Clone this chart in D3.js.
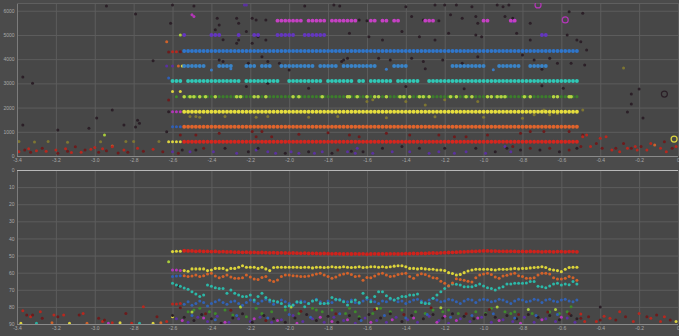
<!DOCTYPE html>
<html><head><meta charset="utf-8">
<script src="https://cdn.jsdelivr.net/npm/d3@7"></script>
<style>html,body{margin:0;padding:0;background:#4b4b4b;overflow:hidden}</style>
</head><body><svg id="c" width="679" height="336"></svg>
<script>
// ---------------- DATA ----------------
const scanTimes = [-2.60,-2.58,-2.56,-2.54,-2.52,-2.50,-2.48,-2.46,-2.44,-2.42,-2.40,-2.38,-2.36,-2.34,-2.32,-2.30,-2.28,-2.26,-2.24,-2.22,-2.20,-2.18,-2.16,-2.14,-2.12,-2.10,-2.08,-2.06,-2.04,-2.02,-2.00,-1.98,-1.96,-1.94,-1.92,-1.90,-1.88,-1.86,-1.84,-1.82,-1.80,-1.78,-1.76,-1.74,-1.72,-1.70,-1.68,-1.66,-1.64,-1.62,-1.60,-1.58,-1.56,-1.54,-1.52,-1.50,-1.48,-1.46,-1.44,-1.42,-1.40,-1.38,-1.36,-1.34,-1.32,-1.30,-1.28,-1.26,-1.24,-1.22,-1.20,-1.18,-1.16,-1.14,-1.12,-1.10,-1.08,-1.06,-1.04,-1.02,-1.00,-0.98,-0.96,-0.94,-0.92,-0.90,-0.88,-0.86,-0.84,-0.82,-0.80,-0.78,-0.76,-0.74,-0.72,-0.70,-0.68,-0.66,-0.64,-0.62,-0.60,-0.58,-0.56,-0.54,-0.52];

const xTicks = [-3.4,-3.2,-3.0,-2.8,-2.6,-2.4,-2.2,-2.0,-1.8,-1.6,-1.4,-1.2,-1.0,-0.8,-0.6,-0.4,-0.2,0];
const topYTicks = [0,1000,2000,3000,4000,5000,6000];
const bottomYTicks = [0,10,20,30,40,50,60,70,80,90];

// top panel: constant-level rows, present during the listed time runs
const topRowNames  = ['magenta','purple','blue','lightblue','teal','green','yellow','orange','red'];
const topRowLevels = [5590,5000,4340,3720,3100,2450,1830,1210,590];
const topRowRuns = [
  [[-2.06,-1.94],[-1.90,-1.82],[-1.78,-1.76],[-1.74,-1.66],[-1.58,-1.56],[-1.52,-1.50],[-1.46,-1.44],[-1.30,-1.26],[-1.00,-0.98],[-0.86,-0.84]],
  [[-2.54,-2.54],[-2.40,-2.36],[-2.26,-2.26],[-2.18,-2.16],[-2.06,-1.98],[-1.92,-1.82],[-0.70,-0.68]],
  [[-2.54,-0.52]],
  [[-2.54,-2.44],[-2.36,-2.30],[-2.22,-2.18],[-2.14,-2.10],[-2.04,-1.88],[-1.84,-1.76],[-1.72,-1.56],[-1.46,-1.40],[-1.16,-1.00],[-0.92,-0.82],[-0.76,-0.68]],
  [[-2.60,-2.56],[-2.52,-2.26],[-2.22,-2.18],[-2.16,-2.06],[-2.00,-1.92],[-1.90,-1.84],[-1.80,-1.68],[-1.64,-1.62],[-1.58,-1.56],[-1.54,-1.48],[-1.44,-1.34],[-1.28,-0.52]],
  [[-2.54,-0.52]],
  [[-2.54,-0.52]],
  [[-2.54,-0.52]],
  [[-2.54,-0.52]]
];
const topGreenBright = [-2.54,-2.51,-2.49,-2.46,-2.43,-2.38,-2.27,-2.25,-2.18,-2.16,-2.12,-1.98,-1.95,-1.83,-1.70,-1.69,-1.65,-1.60,-1.56,-1.54,-1.50,-1.43,-1.41,-1.38,-1.33,-1.31,-1.28,-1.17,-1.14,-1.09,-1.06,-0.98,-0.96,-0.93,-0.91,-0.89,-0.79,-0.76,-0.64,-0.62,-0.56,-0.55];

// top panel scattered readings [time, value, kind]
const topScatter = [
[-3.37,3260,'dk'],[-3.32,3010,'dk'],[-3.37,1280,'dk'],[-3.19,1070,'dk'],[-3.03,1150,'dk'],[-2.99,1570,'dk'],[-2.91,1900,'dk'],[-2.94,6200,'dk'],[-2.79,5870,'dk'],[-2.70,3930,'dk'],[-2.79,1200,'dk'],[-2.78,1480,'dk'],[-2.77,1350,'dk'],[-2.85,1280,'dk'],[-2.95,870,'lg'],[-2.91,410,'or'],
[-3.39,180,'rd'],[-3.36,250,'dr'],[-3.34,300,'rd'],[-3.33,150,'dr'],[-3.30,220,'rd'],[-3.27,320,'dr'],[-3.25,200,'rd'],[-3.20,250,'rd'],[-3.19,110,'dr'],[-3.15,300,'rd'],[-3.14,200,'dr'],[-3.12,140,'rd'],[-3.10,380,'dr'],[-3.07,150,'rd'],[-3.05,250,'dr'],[-3.02,280,'rd'],[-3.00,350,'rd'],[-2.98,160,'dr'],[-2.96,300,'rd'],[-2.94,220,'dr'],[-2.91,380,'rd'],[-2.88,120,'dr'],[-2.85,250,'rd'],[-2.83,150,'dr'],[-2.78,320,'rd'],[-2.75,200,'dr'],[-2.70,280,'rd'],[-2.65,180,'dr'],
[-3.39,600,'oy'],[-3.31,580,'oy'],[-3.24,600,'oy'],[-3.14,570,'oy'],[-2.97,590,'oy'],[-2.84,600,'oy'],[-2.80,600,'oy'],[-2.67,600,'oy'],
[-2.63,4720,'or'],[-2.62,4300,'dr'],[-2.62,3220,'bl'],[-2.62,2310,'dr'],[-2.62,590,'ye'],[-2.63,3720,'pu'],[-2.62,1830,'dk'],[-2.63,1000,'dk'],
[-2.60,4310,'rd'],[-2.58,4310,'rd'],[-2.56,4310,'dr'],[-2.60,3720,'pu'],[-2.57,3720,'or'],[-2.55,3720,'ye'],[-2.60,2660,'ye'],[-2.56,2660,'ye'],[-2.58,2450,'gr'],[-2.60,1830,'mg'],[-2.58,1830,'mg'],[-2.56,1830,'mg'],[-2.60,1210,'bl'],[-2.58,1210,'bl'],[-2.56,1210,'bl'],[-2.60,590,'ye'],[-2.58,590,'ye'],[-2.56,590,'ye'],[-2.56,5000,'lg'],
[-2.60,6240,'dk'],[-2.49,6200,'dk'],[-2.23,6240,'pu'],[-2.22,6240,'pu'],[-1.92,6200,'dk'],[-1.77,6240,'dk'],[-1.74,6200,'dk'],[-1.40,6170,'dk'],[-1.25,6240,'dk'],[-1.20,6240,'dk'],[-1.14,6240,'dk'],[-1.06,6170,'dk'],[-0.93,6240,'dk'],[-0.90,6170,'dk'],[-0.87,6240,'dk'],
[-2.50,5830,'mg'],[-2.49,5760,'mg'],[-2.37,5690,'dk'],[-2.36,5410,'dk'],[-2.27,5690,'dk'],[-2.19,5690,'dk'],[-2.17,5620,'dk'],[-2.12,5620,'dk'],[-2.26,5480,'dk'],[-1.64,5620,'dk'],[-1.60,5590,'dk'],[-1.37,5760,'dk'],[-1.31,5620,'dk'],[-1.23,5590,'dk'],[-1.17,5830,'dk'],[-1.11,5690,'dk'],[-1.04,5760,'dk'],[-1.03,5480,'dk'],[-0.89,5760,'dk'],[-0.85,5690,'dk'],[-0.85,5550,'pu'],[-0.84,5620,'pu'],[-0.76,5480,'dk'],[-0.56,5960,'dk'],[-0.49,5900,'dk'],
[-2.61,5480,'dk'],[-2.38,5210,'dk'],[-2.34,4800,'dk'],[-2.27,4660,'dk'],[-2.26,4790,'dk'],[-2.22,5140,'dk'],[-2.19,4660,'dk'],[-2.16,4930,'dk'],[-2.12,4790,'dk'],[-1.69,5070,'dk'],[-1.59,4930,'dk'],[-1.52,4790,'dk'],[-1.42,5140,'dk'],[-1.33,4930,'dk'],[-1.25,4790,'dk'],[-1.18,5070,'dk'],[-1.04,5000,'dk'],[-1.01,4930,'dk'],[-0.83,5070,'dk'],[-0.76,4790,'dk'],[-0.57,5000,'dk'],[-0.52,4790,'dk'],[-0.50,4720,'dk'],[-0.47,4380,'dk'],
[-2.36,3970,'dk'],[-2.34,3900,'dk'],[-2.21,3830,'dk'],[-2.14,4100,'dk'],[-2.11,3900,'dk'],[-2.05,3830,'dk'],[-1.73,3900,'dk'],[-1.70,4040,'dk'],[-1.72,3970,'dk'],[-1.54,4040,'dk'],[-1.48,3970,'dk'],[-1.37,4040,'dk'],[-1.31,3900,'dk'],[-1.21,3970,'dk'],[-1.11,3830,'dk'],[-1.03,4100,'dk'],[-0.80,4170,'dk'],[-0.74,3970,'dk'],[-0.66,4040,'dk'],[-0.62,3830,'dk'],[-0.55,3830,'dk'],[-0.48,3760,'dk'],
[-2.40,3550,'b2'],[-2.30,3600,'b2'],[-2.00,3550,'dk'],[-1.50,3580,'b2'],[-1.30,3600,'dk'],[-0.95,3560,'b2'],[-0.70,3580,'dk'],
[-2.22,2870,'dk'],[-2.11,3000,'dk'],[-1.90,2800,'dk'],[-1.40,2870,'dk'],[-1.10,2780,'dk'],[-0.70,2900,'dk'],[-0.59,2800,'dk'],
[-2.51,1630,'oy'],[-2.48,1630,'oy'],[-2.46,1600,'oy'],[-2.33,1630,'oy'],[-2.17,1600,'oy'],[-2.11,1630,'oy'],[-1.60,2250,'oy'],[-1.57,2320,'oy'],[-1.40,2250,'oy'],[-1.30,2110,'oy'],[-1.20,2320,'oy'],[-1.03,2250,'oy'],[-0.80,1560,'oy'],[-0.74,1700,'oy'],[-0.69,1900,'oy'],[-0.66,1700,'oy'],[-0.62,1760,'oy'],[-0.49,1900,'oy'],[-1.90,1600,'oy'],[-1.75,1630,'oy'],[-1.50,1580,'oy'],[-1.25,1620,'oy'],[-1.00,1600,'oy'],
[-2.56,870,'dr'],[-2.48,870,'dr'],[-2.36,940,'dr'],[-2.19,1010,'dr'],[-2.17,800,'dr'],[-2.14,1010,'dr'],[-2.09,800,'dr'],[-1.69,870,'dr'],[-1.64,800,'dr'],[-1.50,940,'dr'],[-1.38,870,'dr'],[-1.23,870,'dr'],[-1.15,800,'dr'],[-1.09,800,'dr'],[-0.98,870,'dr'],[-0.81,940,'dr'],[-0.76,1010,'dr'],[-0.69,1010,'dr'],[-0.56,1010,'dr'],[-0.49,870,'dr'],[-1.95,900,'dr'],[-1.80,960,'dr'],
[-2.60,180,'pu'],[-2.57,110,'dr'],[-2.55,250,'dk'],[-2.51,180,'pu'],[-2.48,250,'dk'],[-2.44,320,'dr'],[-2.39,180,'pu'],[-2.33,320,'dk'],[-2.27,110,'pu'],[-2.21,180,'dk'],[-2.17,250,'pu'],[-2.16,320,'dk'],[-2.11,180,'pu'],[-2.07,110,'pu'],[-2.02,110,'dk'],[-1.99,180,'pu'],[-1.95,110,'pu'],[-1.90,180,'dk'],[-1.87,110,'pu'],[-1.83,180,'pu'],[-1.78,110,'dk'],[-1.75,250,'dr'],[-1.70,180,'pu'],[-1.66,110,'pu'],
[-1.68,200,'dk'],[-1.65,320,'pu'],[-1.62,180,'dk'],[-1.57,110,'pu'],[-1.52,320,'dk'],[-1.47,180,'pu'],[-1.42,390,'dk'],[-1.38,180,'pu'],[-1.33,320,'dk'],[-1.28,110,'pu'],[-1.23,180,'pu'],[-1.20,320,'dk'],[-1.15,110,'pu'],[-1.09,180,'pu'],[-1.04,320,'dk'],[-0.99,110,'pu'],[-0.94,180,'dk'],[-0.89,390,'pu'],[-0.86,180,'pu'],
[-0.88,320,'dk'],[-0.85,390,'dr'],[-0.81,250,'dk'],[-0.76,320,'dr'],[-0.71,250,'dk'],[-0.66,320,'dr'],[-0.61,180,'dk'],[-0.56,250,'dr'],[-0.52,320,'dk'],
[-0.49,800,'rd'],[-0.50,390,'dr'],[-0.47,870,'rd'],[-0.45,390,'rd'],[-0.42,520,'dr'],[-0.40,730,'rd'],[-0.39,320,'dr'],[-0.37,800,'rd'],[-0.34,250,'rd'],[-0.32,320,'dr'],[-0.30,180,'rd'],[-0.28,520,'dr'],[-0.26,320,'rd'],[-0.24,320,'dr'],[-0.22,390,'rd'],[-0.21,250,'rd'],[-0.19,390,'dr'],[-0.16,250,'rd'],[-0.14,520,'rd'],[-0.12,450,'or'],[-0.09,320,'rd'],[-0.07,590,'dr'],[-0.06,180,'rd'],[-0.03,320,'dr'],[-0.01,390,'rd'],
[-0.20,2770,'dk'],[-0.24,2560,'dk'],[-0.24,2150,'dk'],[-0.26,1820,'dk'],[-0.28,3640,'oy'],[-0.18,1570,'dk']
];
const topRings = [[-0.07,2560,'dk'],[-0.02,700,'ye'],[-0.72,6240,'mg'],[-0.58,5620,'mg']];

// bottom panel series, one value per scan time (null = no reading)
const bottomRed = [null,null,null,
47.2,47.3,47.3,47.5,47.4,47.6,47.5,47.7,47.6,47.8,47.7,47.9,47.8,48.0,48.0,48.1,48.0,48.2,
48.1,48.3,48.2,48.3,48.4,48.3,48.5,48.4,48.5,48.6,48.5,48.6,48.7,48.6,48.8,48.7,48.8,48.9,48.8,48.9,
49.0,48.9,49.0,49.1,49.0,49.1,49.0,49.1,49.0,49.2,49.1,49.0,49.1,49.0,49.1,49.0,49.0,49.1,49.0,48.9,
48.9,48.8,48.9,48.7,48.8,48.6,48.5,48.6,48.4,48.3,48.2,48.1,48.0,47.9,47.8,47.7,47.6,47.5,47.4,47.3,
47.3,47.4,47.4,47.5,47.5,47.6,47.5,47.6,47.7,47.6,47.7,47.6,47.7,47.7,47.8,47.7,47.7,47.8,47.7,47.7,47.8,47.7,47.7,47.8];
const bottomYellow = [47.7,47.5,47.5,58.8,59.2,57.8,57.8,57.8,57.8,58.8,58.4,
57.5,57.5,57.5,58.4,57.5,57.5,56.8,56.0,56.8,56.8,
56.8,57.5,56.8,57.8,58.8,57.0,56.8,56.8,56.8,56.8,
56.8,56.8,57.0,56.8,56.8,57.2,56.8,56.8,57.0,56.8,
56.5,56.8,56.8,56.5,56.8,57.0,56.8,56.5,
57.0,56.8,56.5,56.5,56.8,56.5,56.8,56.5,56.2,56.0,56.0,56.5,
57.5,57.5,57.8,57.5,57.8,58.0,58.0,58.4,58.4,58.8,
60.0,60.5,61.4,61.0,60.0,59.0,58.4,58.0,58.0,58.0,
58.0,58.2,58.4,58.0,58.0,58.0,57.8,57.5,
57.8,57.5,57.5,57.2,57.0,56.8,56.5,57.0,58.0,58.4,58.8,59.4,58.0,57.0,56.8,56.8];
const bottomOrange = [null,null,null,
61.8,62.3,62.0,61.4,62.3,61.8,60.8,60.4,
62.0,63.0,62.3,61.4,62.5,63.3,63.3,63.0,61.4,62.5,
63.7,64.0,62.8,62.3,64.5,65.2,64.3,62.3,61.4,61.4,
61.8,62.0,62.3,62.3,62.0,61.4,60.8,60.4,61.4,62.3,
63.3,62.5,61.4,60.8,60.4,61.0,62.3,62.0,
64.5,62.8,63.0,62.0,60.8,60.4,61.4,62.3,62.0,61.0,60.6,60.4,
62.3,63.3,61.4,60.6,61.0,62.0,63.0,63.3,65.0,66.2,
67.6,66.0,63.5,64.0,64.5,65.0,65.5,63.0,61.4,60.8,
60.4,61.0,62.5,63.3,62.0,61.5,60.8,60.4,
61.8,62.3,63.3,63.3,63.0,61.4,60.4,60.4,60.8,63.0,63.7,63.7,63.3,62.3,63.0,64.5];
const bottomTeal = [66.2,67.2,68.0,69.0,69.7,71.1,72.5,74.0,73.0,67.2,68.0,
68.8,69.2,69.2,72.1,70.1,72.0,73.0,74.0,74.0,73.0,
76.0,74.0,72.1,74.5,76.0,76.5,77.0,78.0,79.9,79.4,
78.9,77.0,77.5,79.9,78.0,76.5,76.0,78.0,78.0,77.9,
74.5,75.5,76.0,77.0,78.9,77.0,76.0,77.5,
72.1,74.5,77.0,74.0,71.1,71.1,73.5,75.0,76.0,75.0,74.0,74.0,
73.0,73.0,72.5,77.5,78.0,78.0,75.0,73.0,71.1,69.2,
67.8,66.6,66.8,67.2,68.2,68.2,68.2,67.5,66.6,67.8,
68.8,69.2,70.1,69.0,68.2,66.6,66.6,66.2,
66.2,66.2,66.0,65.2,65.2,68.0,68.2,68.8,67.8,66.6,66.2,67.2,66.6,67.0,65.2,66.6];
const bottomBlue = [null,null,null,
78.5,77.0,79.0,78.0,76.5,77.5,79.5,78.0,77.0,76.0,77.5,78.5,77.0,76.5,78.0,79.0,77.5,76.0,
77.0,78.0,76.5,75.5,77.0,78.5,77.5,76.0,77.0,78.0,79.0,77.5,76.5,77.0,78.0,76.5,75.5,77.0,78.0,76.5,
77.5,76.0,75.5,76.5,77.0,76.0,77.5,78.0,76.5,75.5,76.0,77.0,78.0,76.5,77.0,75.5,76.0,77.0,76.5,78.0,
77.0,76.0,75.5,76.5,77.5,76.0,75.0,76.0,77.0,76.5,75.5,76.0,77.0,78.0,76.5,75.5,76.0,77.5,76.0,75.5,
76.0,77.0,76.5,75.5,76.0,77.0,78.0,76.5,75.5,76.0,77.0,76.5,75.5,76.0,77.5,76.0,75.5,76.5,77.0,76.0,75.5,76.5,77.0,76.0];

// bottom panel scattered readings [time, value, kind]
const bottomScatter = [
[-2.60,58.4,'mg'],[-2.58,58.4,'mg'],[-2.56,58.8,'mg'],[-2.60,62.3,'bl'],[-2.58,62.0,'bl'],[-2.56,61.8,'bl'],[-2.62,53.6,'lg'],[-2.60,78.3,'rd'],[-2.58,78.3,'rd'],[-2.56,78.0,'rd'],[-2.57,68.0,'dk'],[-2.60,85.7,'ye'],
[-2.52,82.8,'gr'],[-2.49,81.8,'gr'],[-2.46,80.8,'gr'],[-2.41,82.8,'gr'],[-2.38,83.8,'gr'],[-2.33,81.8,'gr'],[-2.29,84.7,'gr'],[-2.25,79.9,'gr'],[-2.22,85.7,'gr'],[-2.17,80.8,'gr'],[-2.14,83.8,'gr'],[-2.09,82.8,'gr'],[-2.02,81.8,'gr'],[-1.99,79.9,'gr'],[-1.95,83.8,'gr'],[-1.88,80.8,'gr'],[-1.86,81.8,'gr'],[-1.83,82.8,'gr'],[-1.78,81.8,'gr'],[-1.71,83.8,'gr'],[-1.69,80.8,'gr'],[-1.66,82.8,'gr'],
[-1.64,85.7,'gr'],[-1.57,83.8,'gr'],[-1.53,80.8,'gr'],[-1.48,82.8,'gr'],[-1.42,81.8,'gr'],[-1.35,82.8,'gr'],[-1.30,83.8,'gr'],[-1.26,81.8,'gr'],[-1.21,82.8,'gr'],[-1.18,81.8,'gr'],[-1.13,83.8,'gr'],[-1.04,82.8,'gr'],[-0.99,83.8,'gr'],[-0.96,80.8,'gr'],[-0.89,82.8,'gr'],[-0.86,83.8,'gr'],
[-0.84,82.8,'gr'],[-0.75,83.8,'gr'],[-0.66,82.8,'gr'],[-0.61,83.8,'gr'],[-0.57,82.8,'gr'],[-0.55,79.9,'gr'],
[-2.50,83.0,'lg'],[-2.25,80.0,'lg'],[-1.99,80.0,'lg'],[-0.93,80.0,'lg'],[-0.77,81.5,'lg'],[-0.63,81.5,'lg'],[-1.55,81.0,'lg'],[-1.22,80.5,'lg'],
[-2.58,87.0,'pu'],[-2.52,89.0,'pu'],[-2.47,86.0,'pu'],[-2.42,88.5,'pu'],[-2.37,85.5,'pu'],[-2.31,89.0,'pu'],[-2.26,87.0,'pu'],[-2.20,88.5,'pu'],[-2.15,86.0,'pu'],[-2.09,89.0,'pu'],[-2.04,87.5,'pu'],[-1.98,85.0,'pu'],[-1.93,88.5,'pu'],[-1.88,87.0,'pu'],[-1.82,89.0,'pu'],[-1.77,86.0,'pu'],[-1.72,88.0,'pu'],[-1.66,89.5,'pu'],[-1.61,86.5,'pu'],[-1.55,88.0,'pu'],[-1.50,89.0,'pu'],[-1.45,86.0,'pu'],[-1.39,87.5,'pu'],[-1.34,89.0,'pu'],[-1.28,85.5,'pu'],[-1.23,88.0,'pu'],[-1.18,89.5,'pu'],[-1.12,87.0,'pu'],[-1.07,88.5,'pu'],[-1.01,86.0,'pu'],[-0.96,89.0,'pu'],[-0.90,87.5,'pu'],[-0.85,88.5,'pu'],[-0.79,86.0,'pu'],[-0.74,89.0,'pu'],[-0.68,87.0,'pu'],[-0.63,88.5,'pu'],[-0.57,86.5,'pu'],[-0.53,89.0,'pu'],
[-2.55,88.0,'mg'],[-2.44,86.5,'mg'],[-2.33,89.0,'mg'],[-2.18,87.0,'mg'],[-2.06,88.0,'mg'],[-1.96,89.5,'mg'],[-1.84,86.0,'mg'],[-1.70,87.5,'mg'],[-1.58,89.0,'mg'],[-1.47,87.5,'mg'],[-1.36,86.5,'mg'],[-1.24,89.0,'mg'],[-1.14,88.0,'mg'],[-1.03,86.5,'mg'],[-0.92,88.0,'mg'],[-0.81,89.5,'mg'],[-0.70,87.5,'mg'],[-0.60,86.0,'mg'],[-1.78,88.5,'mg'],[-1.20,85.5,'mg'],
[-2.60,85.0,'dk'],[-2.54,86.0,'dk'],[-2.49,88.0,'dk'],[-2.45,84.5,'dk'],[-2.40,87.0,'dk'],[-2.35,89.5,'dk'],[-2.29,86.5,'dk'],[-2.24,84.0,'dk'],[-2.19,89.0,'dk'],[-2.13,85.0,'dk'],[-2.08,87.0,'dk'],[-2.02,89.0,'dk'],[-1.97,86.5,'dk'],[-1.91,84.5,'dk'],[-1.86,88.0,'dk'],[-1.80,85.5,'dk'],[-1.75,89.0,'dk'],[-1.69,85.0,'dk'],[-1.64,87.0,'dk'],[-1.59,84.5,'dk'],[-1.53,86.5,'dk'],[-1.48,84.0,'dk'],[-1.42,88.5,'dk'],[-1.37,85.0,'dk'],[-1.31,87.0,'dk'],[-1.26,84.5,'dk'],[-1.21,86.5,'dk'],[-1.16,84.0,'dk'],[-1.10,85.5,'dk'],[-1.05,87.0,'dk'],[-0.99,84.5,'dk'],[-0.94,86.0,'dk'],[-0.88,85.0,'dk'],[-0.83,87.0,'dk'],[-0.77,84.5,'dk'],[-0.72,86.0,'dk'],[-0.66,85.0,'dk'],[-0.61,87.5,'dk'],[-0.55,85.0,'dk'],[-0.52,87.0,'dk'],
[-2.50,85.0,'bl'],[-2.38,87.5,'bl'],[-2.27,85.0,'bl'],[-2.11,86.5,'bl'],[-2.00,84.5,'bl'],[-1.89,86.0,'bl'],[-1.74,84.0,'bl'],[-1.63,88.0,'bl'],[-1.51,85.0,'bl'],[-1.40,86.5,'bl'],[-1.29,84.5,'bl'],[-1.17,86.0,'bl'],[-1.06,85.0,'bl'],[-0.95,84.0,'bl'],[-0.84,86.5,'bl'],[-0.73,85.0,'bl'],[-0.62,84.5,'bl'],
[-2.56,80.5,'dr'],[-2.43,84.0,'dr'],[-2.30,82.0,'dr'],[-2.12,88.0,'dr'],[-1.94,82.5,'dr'],[-1.76,84.0,'dr'],[-1.56,81.5,'dr'],[-1.41,84.5,'dr'],[-1.27,80.5,'dr'],[-1.09,84.0,'dr'],[-0.97,81.5,'dr'],[-0.82,84.5,'dr'],[-0.67,83.0,'dr'],[-0.56,84.0,'dr'],
[-3.37,82.2,'rd'],[-3.35,84.7,'dr'],[-3.33,85.7,'rd'],[-3.32,84.7,'dr'],[-3.28,82.8,'rd'],[-3.27,86.7,'dr'],[-3.21,84.7,'rd'],[-3.19,85.7,'dr'],[-3.16,84.7,'rd'],[-3.08,84.7,'dr'],[-3.06,83.8,'rd'],[-2.98,86.7,'dr'],[-2.96,88.6,'rd'],[-2.95,87.7,'dr'],[-2.91,89.2,'rd'],[-2.84,83.8,'dr'],[-2.81,89.6,'rd'],[-2.75,79.9,'rd'],[-2.68,85.7,'dr'],[-2.63,88.6,'rd'],
[-3.38,89.5,'ye'],[-3.30,89.5,'tl'],[-3.22,89.2,'or'],[-3.13,89.5,'ye'],[-3.04,89.5,'or'],[-2.93,89.5,'mg'],[-2.87,89.3,'ye'],[-2.77,89.5,'tl'],[-2.70,89.5,'ye'],[-2.66,89.3,'or'],
[-0.50,84.2,'rd'],[-0.50,86.7,'dr'],[-0.48,88.6,'rd'],[-0.46,85.7,'dr'],[-0.42,88.6,'rd'],[-0.40,87.7,'dr'],[-0.38,85.4,'rd'],[-0.35,86.7,'rd'],[-0.32,87.7,'dr'],[-0.30,82.8,'rd'],[-0.27,85.7,'dr'],[-0.23,88.6,'rd'],[-0.20,83.8,'rd'],[-0.16,85.7,'dr'],[-0.14,86.7,'rd'],[-0.11,84.7,'dr'],[-0.09,88.6,'rd'],[-0.07,85.7,'rd'],[-0.04,87.7,'dr'],[-0.01,88.6,'ye'],[-0.40,80.0,'dk']
];

// ---------------- STYLE ----------------
const kindColor = {rd:'#b8281f', dr:'#6c1b1c', dk:'#2b1f27', pu:'#5a31a0', mg:'#b436b8', gr:'#3f8a2c', lg:'#a8cc3c',
  bl:'#2f5fb6', b2:'#3a7cc4', or:'#d0622a', ye:'#dcd440', oy:'#7e7632', tl:'#2ab0a0'};
const topRowColor = {magenta:'#c640c4', purple:'#6436c0', blue:'#2f76cc', lightblue:'#3a84c8', teal:'#30c8b6',
  green:'#3c7e2c', yellow:'#e6de3e', orange:'#e0642c', red:'#d6261e'};

// ---------------- CHART ----------------
const W = 679, H = 336;
const svg = d3.select('#c');
svg.append('rect').attr('width', W).attr('height', H).attr('fill', '#4b4b4b');

const x = d3.scaleLinear().domain([-3.4, 0]).range([17, 678]);
const yTop = d3.scaleLinear().domain([0, 6320]).range([156, 3]);
const yBot = d3.scaleLinear().domain([0, 90]).range([170, 324]);

function panel(y, yTicks, id) {
  const [r0, r1] = y.range();
  const top = Math.min(r0, r1), bottom = Math.max(r0, r1);
  const left = x.range()[0], right = x.range()[1];
  const g = svg.append('g');
  g.append('rect').attr('x', left).attr('y', top).attr('width', right - left).attr('height', bottom - top).attr('fill', '#474747');
  const ax = g.append('g').attr('transform', `translate(0,${bottom})`)
    .call(d3.axisBottom(x).tickValues(xTicks).tickSize(-(bottom - top)).tickPadding(2.5)
      .tickFormat(d => d === 0 ? '0' : d.toFixed(1)));
  const ay = g.append('g').attr('transform', `translate(${left},0)`)
    .call(d3.axisLeft(y).tickValues(yTicks).tickSize(-(right - left)).tickPadding(2.5)
      .tickFormat(d => String(d)));
  [ax, ay].forEach(a => {
    a.select('.domain').remove();
    a.selectAll('line').attr('stroke', '#5d5d5d').attr('stroke-width', 1);
    a.selectAll('text').attr('fill', '#a9a9a9').attr('font-size', '5px')
      .attr('font-family', '"Liberation Sans", Arial, sans-serif');
  });
  g.append('line').attr('x1', left + 0.5).attr('x2', left + 0.5).attr('y1', top).attr('y2', bottom).attr('stroke', '#7c7c7c');
  g.append('line').attr('x1', left).attr('x2', right).attr('y1', bottom + 0.5).attr('y2', bottom + 0.5).attr('stroke', '#8a8a8a');
  svg.append('clipPath').attr('id', 'clip' + id).append('rect')
    .attr('x', left + 1).attr('y', top).attr('width', right - left).attr('height', bottom - top);
  const plot = svg.append('g').attr('clip-path', `url(#clip${id})`);
  return {g, plot, top, bottom, left, right};
}

function dots(layer, data, y, r, colorFn, opacity) {
  layer.append('g').selectAll('circle').data(data).join('circle')
    .attr('cx', d => x(d[0])).attr('cy', d => y(d[1])).attr('r', r)
    .attr('fill', colorFn).attr('fill-opacity', opacity == null ? 1 : opacity);
}
const inRuns = (t, runs) => runs.some(([a, b]) => t >= a - 1e-6 && t <= b + 1e-6);

// ----- top panel -----
const P1 = panel(yTop, topYTicks, 't');
P1.g.append('line').attr('x1', P1.left).attr('x2', P1.right).attr('y1', P1.top + 0.5).attr('y2', P1.top + 0.5).attr('stroke', '#5f5f5f');
dots(P1.plot, topScatter, yTop, 1.5, d => kindColor[d[2]]);
P1.plot.append('g').selectAll('circle').data(topRings).join('circle')
  .attr('cx', d => x(d[0])).attr('cy', d => yTop(d[1])).attr('r', 3)
  .attr('fill', 'none').attr('stroke', d => kindColor[d[2]]).attr('stroke-width', 1.2);
topRowNames.forEach((name, k) => {
  const pts = scanTimes.filter(t => inRuns(t, topRowRuns[k])).map(t => [t, topRowLevels[k]]);
  dots(P1.plot, pts, yTop, name === 'green' ? 1.6 : 1.95, () => topRowColor[name]);
});
dots(P1.plot, topGreenBright.map(t => [t, topRowLevels[topRowNames.indexOf('green')]]), yTop, 1.8, () => '#b6d444');

// ----- bottom panel -----
const P2 = panel(yBot, bottomYTicks, 'b');
P2.g.append('line').attr('x1', P2.left).attr('x2', P2.right).attr('y1', P2.top + 0.5).attr('y2', P2.top + 0.5)
  .attr('stroke', '#b8b8b8').attr('stroke-width', 1.2);
dots(P2.plot, bottomScatter, yBot, 1.5, d => kindColor[d[2]]);
const seriesOf = arr => scanTimes.map((t, i) => [t, arr[i]]).filter(d => d[1] != null);
dots(P2.plot, seriesOf(bottomBlue), yBot, 1.5, () => '#3262b4');
dots(P2.plot, seriesOf(bottomTeal), yBot, 1.5, () => '#2cb8a8');
dots(P2.plot, seriesOf(bottomOrange), yBot, 1.5, () => '#d4622a');
dots(P2.plot, seriesOf(bottomYellow), yBot, 1.55, () => '#dcd43a');
dots(P2.plot, seriesOf(bottomRed), yBot, 1.9, () => '#d0221c');
</script></body></html>
